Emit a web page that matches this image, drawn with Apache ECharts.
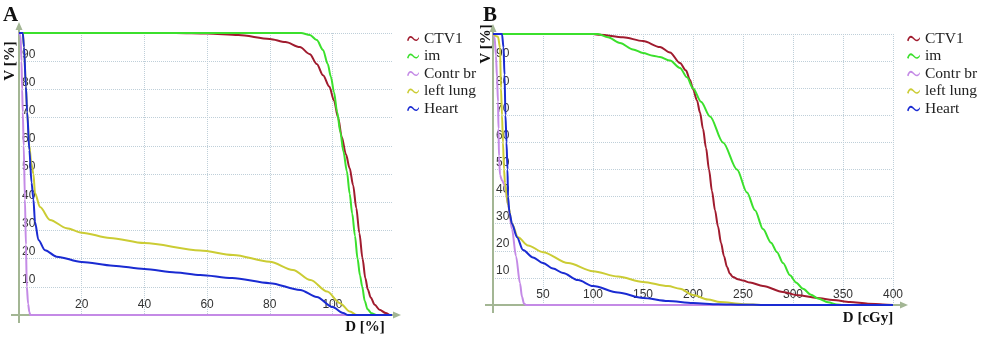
<!DOCTYPE html>
<html><head><meta charset="utf-8">
<script src="https://cdn.jsdelivr.net/npm/echarts@6/dist/echarts.min.js"></script>
<style>html,body{margin:0;padding:0;background:#fff}#c{width:1000px;height:347px}</style>
</head><body><div id="c"></div>
<script>
// ---- data ----
const SERIES_NAMES = ['CTV1', 'im', 'Contr br', 'left lung', 'Heart'];

// Panel A : D [%] vs V [%]
const A_CTV1 = [[0,100],[50,100],[60,99.8],[70,99.3],[80,97.9],[85,96.8],[89.6,95],[92.8,92.5],[95,89],[97,85],[99,81],[100.5,76],[101.8,70],[103,63],[104.3,57],[105.5,52],[106.6,46],[107.6,38],[108.6,29],[109.6,20],[110.5,13],[111.3,9],[112.2,6.2],[113.5,3.6],[115,1.9],[117,0.7],[118.5,0],[119,0]];
const A_IM = [[0,100],[90,100],[92.8,99.3],[95,97.5],[97,94],[98.5,89],[99.5,84.5],[100.5,79],[101.5,72],[102.5,65],[103.5,58],[104.6,51],[105.5,43],[106.3,36],[107.2,28],[108,20],[108.8,14],[109.5,10],[110.3,5],[111.2,2],[112.5,0.6],[114,0],[119,0]];
const A_CONTR = [[0,100],[0.5,99],[0.8,90],[1.0,80],[1.2,72],[1.5,60],[1.9,41],[2.2,25],[2.5,10],[2.9,4],[3.3,1],[3.6,0],[119,0]];
const A_LUNG = [[0,100],[1.2,100],[1.6,95],[2.2,81],[2.6,72],[3.3,60],[3.9,54],[4.6,50],[5.1,43.3],[6.7,38.3],[9.9,33.7],[15.2,30.8],[20,29.2],[29,27.3],[40,25.5],[57.8,22.9],[68.3,21.3],[80,18.9],[87.4,16],[93,12.4],[98.3,8.3],[102.4,4.2],[105.6,1.2],[107.8,0],[119,0]];
const A_HEART = [[0,100],[1.2,100],[1.6,95],[2.2,81],[2.6,72],[3.3,58.5],[4,47],[4.6,41],[5.1,33],[6.2,26.6],[8.3,23],[12,20.7],[20,18.8],[30,17.5],[40,16.3],[50,15.1],[57.8,14.2],[68,13.1],[80,11.3],[89.7,8.9],[95,6.4],[100,2.8],[103.4,0.7],[105,0],[119,0]];

// Panel B : D [cGy] vs V [%]
const B_CTV1 = [[0,100],[100,100],[107,99.7],[130,98.8],[150,97.4],[167,95.2],[177,93.2],[187,89.3],[193,86.5],[197,83],[200,79.7],[204,75.5],[207,71],[210,65],[213,58],[216,50],[219,42],[222,35],[225,29],[228,23],[231,18],[234,14],[237,11.5],[240,10.3],[245,9.5],[250,9],[257,8.3],[270,7],[290,4.8],[305,3.6],[324,2.6],[340,1.8],[357,1.1],[375,0.5],[390,0.2],[400,0]];
const B_IM = [[0,100],[105,100],[115,98.8],[127,96.7],[140,94.3],[150,93],[160,92],[167,91.5],[177,90.2],[187,87.5],[194,84],[200,80],[208,75],[217,69.6],[230,60],[244,50],[254,41.5],[262,35],[270,28],[278,23],[284,19.5],[290,15.5],[297,11],[303,8.3],[310,6],[318,3.8],[325,2.4],[335,1],[344,0.2],[350,0],[400,0]];
const B_CONTR = [[0,100],[1.5,99],[3,92],[4,84],[5,75],[5.5,65],[6,55],[7,48],[9,46],[12,44],[15,37],[19,28],[23,18],[27,8],[29,3],[31,0.5],[33,0],[400,0]];
const B_LUNG = [[0,100],[5,99],[7,95],[8,80],[9,70],[10,60],[11,50],[12,45],[15,37],[19,30],[25,25],[35,22],[50,19.5],[75,15.5],[100,12.5],[125,10.5],[150,8.5],[175,7],[187,6],[200,3.7],[215,2],[227,1.1],[250,0.3],[270,0],[400,0]];
const B_HEART = [[0,100],[9,100],[10.5,95],[11.5,85],[12.5,70],[13.5,60],[14.5,50],[15,40],[16.5,34],[19,30],[24,25],[30,20.3],[40,17.5],[50,15.5],[60,13.5],[70,11.8],[85,9.2],[100,7],[125,4.6],[150,2.6],[175,1.5],[200,0.7],[225,0.3],[250,0.1],[270,0],[400,0]];

// ---- styles ----
const COLORS = ['#a01b2e', '#3be02c', '#c48ae6', '#cbcc34', '#1a2bd2'];
const AXIS_COLOR = '#a3b694';
const GRID_COLOR = '#bfcfd9';
const WAVE = 'path://M0,9 C2,2 6,0 9,3 C12,6 14,9 17,7 C18.5,6 19.5,4.5 20,3.5 L20,6 C19,8 18,9.5 16,10 C13,10.5 11,8 8,5.5 C6,4 4,3.5 2.5,10 Z';

const A_DATA = [A_CTV1, A_IM, A_CONTR, A_LUNG, A_HEART];
const B_DATA = [B_CTV1, B_IM, B_CONTR, B_LUNG, B_HEART];

const chart = echarts.init(document.getElementById('c'), null, {renderer: 'canvas'});

function mkX(idx, max, interval) {
  return {
    type: 'value', gridIndex: idx, min: 0, max: max, interval: interval,
    axisLine: {show: false}, axisTick: {show: false},
    axisLabel: {inside: true, showMinLabel: false, showMaxLabel: idx === 1, color: '#333',
      fontFamily: 'Liberation Sans, Arial, sans-serif', fontSize: 12, margin: 4, verticalAlign: 'bottom'},
    splitLine: {show: true, showMinLine: false, showMaxLine: idx === 1, lineStyle: {color: GRID_COLOR, type: 'dotted', width: 1}}
  };
}
function mkY(idx) {
  return {
    type: 'value', gridIndex: idx, min: 0, max: 100, interval: 10,
    axisLine: {show: false}, axisTick: {show: false},
    axisLabel: {inside: true, showMinLabel: false, showMaxLabel: false, color: '#333',
      fontFamily: 'Liberation Sans, Arial, sans-serif', fontSize: 12, margin: 3, verticalAlign: 'bottom', padding: [0,0,1,0]},
    splitLine: {show: true, showMinLine: false, lineStyle: {color: GRID_COLOR, type: 'dotted', width: 1}}
  };
}

const series = [];
[A_DATA, B_DATA].forEach((set, gi) => {
  set.forEach((d, i) => {
    series.push({
      name: SERIES_NAMES[i], type: 'line', xAxisIndex: gi, yAxisIndex: gi,
      data: d, showSymbol: false, smooth: 0.3, smoothMonotone: 'x',
      color: COLORS[i], lineStyle: {width: 2, color: COLORS[i]}, z: 2 + i, animation: false
    });
  });
});

function mkLegend(left, iw) {
  return {
    orient: 'vertical', left: left, top: 30.5, padding: 0, itemGap: 1.5, itemWidth: iw, itemHeight: 9,
    icon: WAVE, data: SERIES_NAMES, selectedMode: false,
    textStyle: {fontFamily: 'Liberation Serif, Times New Roman, serif', fontSize: 15.5, color: '#222', lineHeight: 15.5}
  };
}

chart.setOption({
  animation: false,
  color: COLORS,
  grid: [
    {left: 19, top: 33, width: 373, height: 282},
    {left: 493, top: 34, width: 400, height: 271}
  ],
  xAxis: [mkX(0, 119, 20), mkX(1, 400, 50)],
  yAxis: [mkY(0), mkY(1)],
  legend: [mkLegend(407, 12), mkLegend(907, 13)],
  series: series
});

// axis lines, arrows and titles (decoration) placed from the axes' own scales
function axisGraphics(gi, xmax, yTipUp, xTipRight) {
  const o = chart.convertToPixel({gridIndex: gi}, [0, 0]);
  const t = chart.convertToPixel({gridIndex: gi}, [0, 100]);
  const r = chart.convertToPixel({gridIndex: gi}, [xmax, 0]);
  const ls = {stroke: AXIS_COLOR, lineWidth: 2};
  const topY = t[1] - yTipUp, rightX = r[0] + xTipRight;
  return [
    {type: 'line', shape: {x1: o[0], y1: o[1] + 8, x2: o[0], y2: topY + 6}, style: ls, z: 1},
    {type: 'line', shape: {x1: o[0] - 8, y1: o[1], x2: rightX - 6, y2: o[1]}, style: ls, z: 1},
    {type: 'polygon', shape: {points: [[o[0], topY], [o[0] - 3.5, topY + 8], [o[0] + 3.5, topY + 8]]}, style: {fill: AXIS_COLOR}, z: 1},
    {type: 'polygon', shape: {points: [[rightX, o[1]], [rightX - 8, o[1] - 3.5], [rightX - 8, o[1] + 3.5]]}, style: {fill: AXIS_COLOR}, z: 1}
  ];
}

const titleFont = 'bold 21px "Liberation Serif", "Times New Roman", serif';
const nameFont = 'bold 15px "Liberation Serif", "Times New Roman", serif';
chart.setOption({
  graphic: [].concat(
    axisGraphics(0, 119, 11, 9),
    axisGraphics(1, 400, 10, 15),
    [
      {type: 'text', left: 3, top: 5, style: {text: 'A', font: titleFont, fill: '#111'}},
      {type: 'text', left: 483, top: 5, style: {text: 'B', font: titleFont, fill: '#111'}},
      {type: 'text', x: 10, y: 61, rotation: Math.PI / 2, style: {text: 'V [%]', font: nameFont, fill: '#111', align: 'center', verticalAlign: 'middle'}},
      {type: 'text', x: 486, y: 44, rotation: Math.PI / 2, style: {text: 'V [%]', font: nameFont, fill: '#111', align: 'center', verticalAlign: 'middle'}},
      {type: 'text', x: 365, y: 327, style: {text: 'D [%]', font: nameFont, fill: '#111', align: 'center', verticalAlign: 'middle'}},
      {type: 'text', x: 868, y: 318, style: {text: 'D [cGy]', font: nameFont, fill: '#111', align: 'center', verticalAlign: 'middle'}}
    ]
  )
});
</script>
</body></html>
